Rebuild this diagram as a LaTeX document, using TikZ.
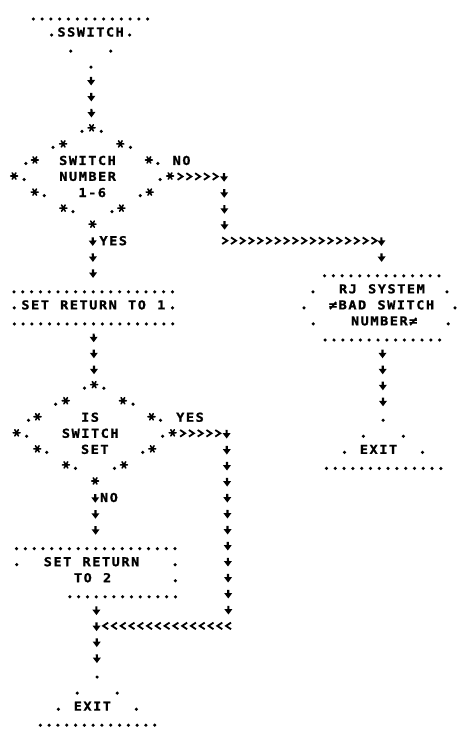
\documentclass[tikz,border=0pt]{standalone}
\usepackage{fontspec}
\newfontfamily\lpfont[FakeStretch=1.1,FakeBold=1.3]{DejaVu Sans Mono}
\usetikzlibrary{decorations.markings}
\makeatletter
\newcommand\spr[1]{\@tfor\lpc:=#1\do{\makebox[9.7pt]{\lpc}}}
\makeatother
\newcommand\yr[1]{(17+16.05*(#1))}
\newcommand\MX{90.3}
\newcommand\RX{222.3}
\newcommand\JX{379}
\newcommand\dotg[2]{\fill ({#1},{#2}) circle (1.75pt);}
\newcommand\starg[2]{\draw[stargl,shift={({#1},{#2})}] (-3.5,0)--(3.5,0) (-1.8,-3.1)--(1.8,3.1) (-1.8,3.1)--(1.8,-3.1);}
\newcommand\pdot[2]{\dotg{#1}{\yr{#2}+2}}
\newcommand\pstar[2]{\starg{#1}{\yr{#2}-1.5}}
\newcommand\terminal[3]{%
 \foreach \i in {0,...,13}{\pdot{#1+8.8*(\i-6.5)}{#2}}
 \pdot{#1-39}{#2+(#3)}\pdot{#1+39}{#2+(#3)}
 \pdot{#1-20}{#2+2*(#3)}\pdot{#1+20}{#2+2*(#3)}
 \pdot{#1}{#2+3*(#3)}}
\newcommand\diam[2]{%
 \pdot{#1-9.7}{#2}\pstar{#1}{#2}\pdot{#1+9.7}{#2}
 \pdot{#1-38.7}{#2+1}\pstar{#1-28.6}{#2+1}\pstar{#1+28.6}{#2+1}\pdot{#1+38.7}{#2+1}
 \pdot{#1-66}{#2+2}\pstar{#1-57}{#2+2}\pstar{#1+57}{#2+2}\pdot{#1+66}{#2+2}
 \pstar{#1-78}{#2+3}\pdot{#1-68}{#2+3}\pdot{#1+68}{#2+3}\pstar{#1+78}{#2+3}
 \pstar{#1-57.5}{#2+4}\pdot{#1-48}{#2+4}\pdot{#1+48}{#2+4}\pstar{#1+57.5}{#2+4}
 \pstar{#1-29}{#2+5}\pdot{#1-19.5}{#2+5}\pdot{#1+19.5}{#2+5}\pstar{#1+29}{#2+5}
 \pstar{#1}{#2+6}}
\tikzset{
 lp/.style={font=\lpfont\bfseries\fontsize{12.3}{12.3}\selectfont, inner sep=0pt, outer sep=0pt, text=black},
 stargl/.style={line width=1.6pt, line cap=round},
 dchain/.style={decorate, decoration={markings, mark=between positions 0 and 1 step 16pt with {\fill (-4.4,-1.1) rectangle (0,1.1); \fill (-1.2,-4) -- (4.2,0) -- (-1.2,4) -- cycle;}}},
 cchain/.style={decorate, decoration={markings, mark=between positions 0 and 1 step 8.78pt with {\draw[line width=1.8pt] (-2.5,-3.3) -- (2.5,0) -- (-2.5,3.3);}}}
}
\begin{document}
\begin{tikzpicture}[x=1pt,y=-1pt]
\fill[white] (0,0) rectangle (465,740);
\useasboundingbox (0,0) rectangle (465,740);
\begin{scope}[cm={1,0,-0.01,1,(0,0)}]
% shapes made of dots and stars
\terminal{\MX}{0}{1}
\diam{\MX}{7}
\foreach \i in {-9,...,9}{\pdot{\MX+8.8*(\i)}{17}\pdot{\MX+8.8*(\i)}{19}}
\pdot{\MX-79.2}{18}\pdot{\MX+79.2}{18}
\foreach \i in {0,...,13}{\pdot{\JX+8.8*(\i-6.5)}{16}\pdot{\JX+8.8*(\i-6.5)}{20}}
\pdot{310}{17}\pdot{444}{17}\pdot{301}{18}\pdot{452}{18}\pdot{310}{19}\pdot{445}{19}
\terminal{\JX}{28}{-1}
\diam{\MX}{23}
\foreach \i in {-9,...,9}{\pdot{\MX+8.8*(\i)}{33}}
\pdot{\MX-79.2}{34}\pdot{\MX+79.2}{34}\pdot{\MX+79.2}{35}
\foreach \i in {-3,...,9}{\pdot{\MX+8.8*(\i)}{36}}
\terminal{\MX}{44}{-1}
% texts
\node[lp] (tSS) at (\MX,{\yr{1}-1}) {\spr{SSWITCH}};
\node[lp] (tD1a) at ({\MX-4.4},{\yr{9}-1}) {\spr{SWITCH}};
\node[lp] (tD1b) at ({\MX-4.4},{\yr{10}-1}) {\spr{NUMBER}};
\node[lp] (tD1c) at (\MX,{\yr{11}-1}) {\spr{1-6}};
\node[lp,anchor=west] (tNO1) at ({\MX+80},{\yr{9}-1}) {\spr{NO}};
\node[lp,anchor=west] (tYES1) at ({\MX+6},{\yr{14}-1}) {\spr{YES}};
\node[lp] (tB1) at (\MX,{\yr{18}-1}) {\spr{SET~RETURN~TO~1}};
\node[lp] (tRJa) at (379,{\yr{17}-1}) {\spr{RJ~SYSTEM}};
\node[lp] (tRJb) at (378.5,{\yr{18}-1}) {\spr{≠BAD~SWITCH}};
\node[lp] (tRJc) at (381,{\yr{19}-1}) {\spr{NUMBER≠}};
\node[lp] (tEX1) at ({\JX-5},{\yr{27}-1}) {\spr{EXIT}};
\node[lp] (tD2a) at ({\MX-4.4},{\yr{25}-1}) {\spr{IS}};
\node[lp] (tD2b) at ({\MX-4.4},{\yr{26}-1}) {\spr{SWITCH}};
\node[lp] (tD2c) at (\MX,{\yr{27}-1}) {\spr{SET}};
\node[lp,anchor=west] (tYES2) at ({\MX+81},{\yr{25}-1}) {\spr{YES}};
\node[lp,anchor=west] (tNO2) at ({\MX+4},{\yr{30}-1}) {\spr{NO}};
\node[lp] (tB2a) at ({\MX-4.4},{\yr{34}-1}) {\spr{SET~RETURN}};
\node[lp] (tB2b) at ({\MX-3.5},{\yr{35}-1}) {\spr{TO~2}};
\node[lp] (tEX2) at ({\MX-5},{\yr{43}-1}) {\spr{EXIT}};
% connector end points
\coordinate (a1) at (\MX,{\yr{4}}); \coordinate (a2) at (\MX,{\yr{6}});
\coordinate (b1) at (\MX,{\yr{14}}); \coordinate (b2) at (\MX,{\yr{16}});
\coordinate (c1) at ({\MX+88},{\yr{10}-1}); \coordinate (c2) at ({\MX+123.2},{\yr{10}-1});
\coordinate (c3) at (\RX,{\yr{10}}); \coordinate (c4) at (\RX,{\yr{13}});
\coordinate (c5) at (\RX,{\yr{14}-1}); \coordinate (c6) at ({\MX+281.6},{\yr{14}-1});
\coordinate (c7) at (\JX,{\yr{14}}); \coordinate (c8) at (\JX,{\yr{15}});
\coordinate (d1) at (\MX,{\yr{20}}); \coordinate (d2) at (\MX,{\yr{22}});
\coordinate (e1) at (\MX,{\yr{30}}); \coordinate (e2) at (\MX,{\yr{32}});
\coordinate (f1) at ({\MX+88},{\yr{26}-1}); \coordinate (f2) at ({\MX+123.2},{\yr{26}-1});
\coordinate (f3) at (\RX,{\yr{26}}); \coordinate (f4) at (\RX,{\yr{37}});
\coordinate (f5) at (\RX,{\yr{38}-1}); \coordinate (f6) at ({\MX+8.8},{\yr{38}-1});
\coordinate (g1) at (\MX,{\yr{37}}); \coordinate (g2) at (\MX,{\yr{40}});
\coordinate (h1) at (\JX,{\yr{21}}); \coordinate (h2) at (\JX,{\yr{24}});
% connectors
\path[dchain] (a1) -- (a2);
\path[dchain] (b1) -- (b2);
\path[cchain] (c1) -- (c2);
\path[dchain] (c3) -- (c4);
\path[cchain] (c5) -- (c6);
\path[dchain] (c7) -- (c8);
\path[dchain] (d1) -- (d2);
\path[dchain] (e1) -- (e2);
\path[cchain] (f1) -- (f2);
\path[dchain] (f3) -- (f4);
\path[cchain] (f5) -- (f6);
\path[dchain] (g1) -- (g2);
\path[dchain] (h1) -- (h2);
\end{scope}
\end{tikzpicture}
\end{document}
